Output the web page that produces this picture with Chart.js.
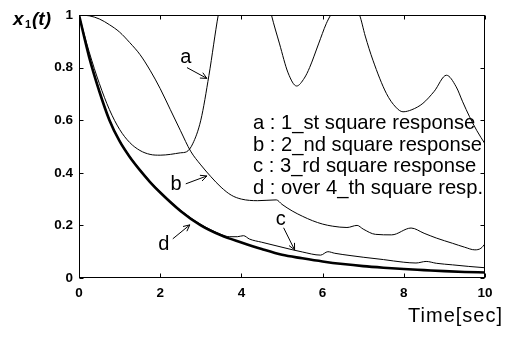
<!DOCTYPE html>
<html>
<head>
<meta charset="utf-8">
<script src="https://cdn.jsdelivr.net/npm/chart.js@4.4.0/dist/chart.umd.min.js"></script>
<style>
  html, body { margin: 0; padding: 0; background: #fff; }
</style>
</head>
<body>
<canvas id="responseChart" width="505" height="345"></canvas>
<script>
// curve a : 1_st square response
const aTime = [0, 0.25, 0.5, 0.75, 1, 1.25, 1.5, 1.75, 2, 2.25, 2.5, 2.65, 2.8, 3, 3.2, 3.43, 3.7, 4.1, 4.45, 4.74, 4.94, 5.15, 5.36, 5.55, 5.68, 5.9, 6.09, 6.2, 6.55, 6.91, 7.05, 7.24, 7.57, 7.8, 7.98, 8.2, 8.47, 8.75, 9.05, 9.29, 9.45, 9.62, 9.8, 10];
const aValues = [1, 0.86, 0.74, 0.64, 0.565, 0.515, 0.485, 0.47, 0.467, 0.47, 0.476, 0.48, 0.51, 0.6, 0.77, 1, 1.2, 1.3, 1.2, 1, 0.89, 0.78, 0.73, 0.76, 0.8, 0.89, 0.967, 1, 1.08, 1, 0.92, 0.828, 0.702, 0.65, 0.632, 0.64, 0.664, 0.71, 0.771, 0.727, 0.67, 0.613, 0.56, 0.51];

// curve b : 2_nd square response
const bTime = [0, 0.25, 0.5, 0.75, 1, 1.25, 1.5, 1.75, 2, 2.25, 2.5, 2.75, 3, 3.25, 3.5, 3.75, 4, 4.4, 4.86, 5, 5.25, 5.5, 5.75, 6, 6.25, 6.6, 6.85, 7, 7.3, 7.7, 8.18, 8.5, 8.8, 9.2, 9.5, 9.75, 9.9, 10];
const bValues = [1, 0.997, 0.985, 0.963, 0.935, 0.895, 0.85, 0.79, 0.72, 0.64, 0.56, 0.482, 0.43, 0.385, 0.345, 0.315, 0.3, 0.294, 0.297, 0.28, 0.255, 0.235, 0.218, 0.205, 0.197, 0.192, 0.2, 0.186, 0.166, 0.164, 0.19, 0.17, 0.152, 0.132, 0.117, 0.107, 0.113, 0.13];

// curve c : 3_rd square response
const cTime = [0, 0.25, 0.5, 0.75, 1, 1.25, 1.5, 1.75, 2, 2.5, 3, 3.5, 3.7, 3.9, 4.05, 4.2, 4.5, 5, 5.5, 5.95, 6.13, 6.3, 6.7, 7, 7.5, 8, 8.3, 8.55, 8.8, 9.2, 9.6, 10];
const cValues = [1, 0.842, 0.713, 0.603, 0.523, 0.463, 0.413, 0.368, 0.328, 0.258, 0.204, 0.166, 0.157, 0.157, 0.161, 0.148, 0.136, 0.117, 0.099, 0.087, 0.1, 0.094, 0.085, 0.079, 0.07, 0.06, 0.057, 0.063, 0.056, 0.05, 0.044, 0.039];

// curve d : over 4_th square resp.
const dTime = [0, 0.25, 0.5, 0.75, 1, 1.25, 1.5, 1.75, 2, 2.5, 3, 3.5, 4, 4.5, 5, 5.5, 6, 6.5, 7, 7.5, 8, 8.5, 9, 9.5, 10];
const dValues = [1, 0.84, 0.71, 0.6, 0.52, 0.46, 0.41, 0.365, 0.325, 0.255, 0.2, 0.162, 0.135, 0.11, 0.088, 0.075, 0.063, 0.053, 0.045, 0.039, 0.034, 0.03, 0.026, 0.023, 0.021];

const legendLines = ['a : 1_st square response', 'b : 2_nd square response', 'c : 3_rd square response', 'd : over 4_th square resp.'];
const yTitle = ['x', '1', '(t)'];
const xTitle = 'Time[sec]';

function toPoints(ts, vs) {
  return ts.map((t, i) => ({ x: t, y: vs[i] }));
}

// label + arrow for each curve, in data units
const curveNotes = [
  { text: 'a', at: [2.63, 0.838], from: [2.66, 0.80], to: [3.15, 0.759] },
  { text: 'b', at: [2.39, 0.354], from: [2.63, 0.358], to: [3.15, 0.388] },
  { text: 'c', at: [4.97, 0.222], from: [5.04, 0.191], to: [5.31, 0.107] },
  { text: 'd', at: [2.09, 0.126], from: [2.31, 0.149], to: [2.73, 0.202] }
];

function arrow(ctx, x1, y1, x2, y2) {
  const ang = Math.atan2(y2 - y1, x2 - x1);
  const len = 7;
  ctx.beginPath();
  ctx.moveTo(x1, y1);
  ctx.lineTo(x2, y2);
  ctx.moveTo(x2 - len * Math.cos(ang - 0.45), y2 - len * Math.sin(ang - 0.45));
  ctx.lineTo(x2, y2);
  ctx.lineTo(x2 - len * Math.cos(ang + 0.45), y2 - len * Math.sin(ang + 0.45));
  ctx.stroke();
}

const frameAndNotes = {
  id: 'frameAndNotes',
  afterDatasetsDraw(chart) {
    const { ctx, chartArea: ca, scales: { x, y } } = chart;
    ctx.save();
    ctx.strokeStyle = '#000';
    ctx.fillStyle = '#000';
    ctx.lineWidth = 1;

    const L = Math.round(ca.left) + 0.5, R = Math.round(ca.right) - 0.5;
    const T = Math.round(ca.top) + 0.5, B = Math.round(ca.bottom) - 0.5;
    ctx.strokeRect(L, T, R - L, B - T);

    // inward ticks on all four sides
    ctx.beginPath();
    x.ticks.forEach(tk => {
      const px = Math.round(x.getPixelForValue(tk.value)) + 0.5;
      ctx.moveTo(px, B); ctx.lineTo(px, B - 4);
      ctx.moveTo(px, T); ctx.lineTo(px, T + 4);
    });
    y.ticks.forEach(tk => {
      const py = Math.round(y.getPixelForValue(tk.value)) + 0.5;
      ctx.moveTo(L, py); ctx.lineTo(L + 4, py);
      ctx.moveTo(R, py); ctx.lineTo(R - 4, py);
    });
    ctx.stroke();

    // curve labels and arrows
    ctx.font = '20px "Liberation Sans", Arial, sans-serif';
    ctx.textAlign = 'center';
    ctx.textBaseline = 'middle';
    curveNotes.forEach(n => {
      ctx.fillText(n.text, x.getPixelForValue(n.at[0]), y.getPixelForValue(n.at[1]));
      arrow(ctx, x.getPixelForValue(n.from[0]), y.getPixelForValue(n.from[1]),
                 x.getPixelForValue(n.to[0]), y.getPixelForValue(n.to[1]));
    });

    // legend text block
    ctx.textAlign = 'left';
    ctx.textBaseline = 'alphabetic';
    ctx.font = '20.2px "Liberation Sans", Arial, sans-serif';
    legendLines.forEach((s, i) => ctx.fillText(s, 253, 129 + i * 21.5));

    // axis titles
    ctx.font = 'italic bold 19px "Liberation Sans", Arial, sans-serif';
    ctx.fillText(yTitle[0], 13, 25);
    ctx.font = 'bold 11px "Liberation Sans", Arial, sans-serif';
    ctx.fillText(yTitle[1], 25, 28);
    ctx.font = 'italic bold 19px "Liberation Sans", Arial, sans-serif';
    ctx.fillText(yTitle[2], 32, 25);

    ctx.font = '20px "Liberation Sans", Arial, sans-serif';
    ctx.letterSpacing = '1px';
    ctx.textAlign = 'right';
    ctx.fillText(xTitle, 503, 322);
    ctx.restore();
  }
};

const ctx = document.getElementById('responseChart').getContext('2d');
const tickFont = { family: '"Liberation Sans", Arial, sans-serif', size: 13.5, weight: 'bold' };

const responseChart = new Chart(ctx, {
  type: 'line',
  data: {
    datasets: [
      { label: 'a', data: toPoints(aTime, aValues), borderColor: '#000', borderWidth: 1 },
      { label: 'b', data: toPoints(bTime, bValues), borderColor: '#000', borderWidth: 1 },
      { label: 'c', data: toPoints(cTime, cValues), borderColor: '#000', borderWidth: 1 },
      { label: 'd', data: toPoints(dTime, dValues), borderColor: '#000', borderWidth: 2.6 }
    ]
  },
  options: {
    responsive: false,
    animation: false,
    devicePixelRatio: 1,
    layout: { padding: { top: 15, right: 20, left: 0, bottom: 0 } },
    elements: {
      point: { radius: 0 },
      line: { cubicInterpolationMode: 'monotone', fill: false }
    },
    plugins: {
      legend: { display: false },
      tooltip: { enabled: false }
    },
    scales: {
      x: {
        type: 'linear',
        min: 0,
        max: 10,
        ticks: { stepSize: 2, padding: 7, color: '#000', font: tickFont },
        grid: { display: false, drawTicks: false },
        border: { display: false },
        afterFit(scale) { scale.height = 67; }
      },
      y: {
        min: 0,
        max: 1,
        ticks: {
          stepSize: 0.2, padding: 6, color: '#000', font: tickFont,
          callback: v => String(+v.toFixed(1))
        },
        grid: { display: false, drawTicks: false },
        border: { display: false },
        afterFit(scale) { scale.width = 79; }
      }
    }
  },
  plugins: [frameAndNotes]
});
</script>
</body>
</html>
